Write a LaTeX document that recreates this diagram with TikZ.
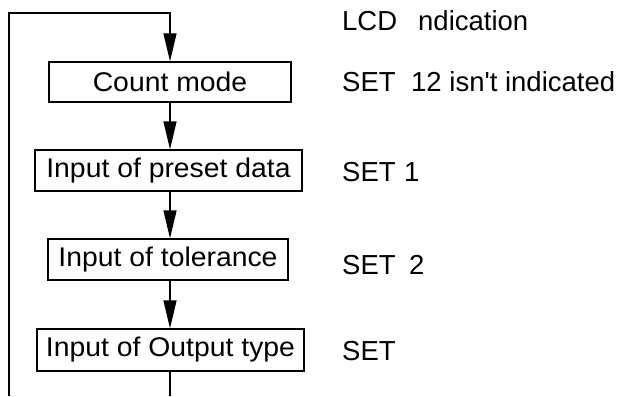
\documentclass[tikz,border=0pt]{standalone}
\usepackage{fontspec}
\setmainfont{Liberation Sans}
\newfontfamily\boxfont{Liberation Sans}[FakeStretch=1.05]
\usetikzlibrary{arrows.meta}
\begin{document}
\begin{tikzpicture}[x=1pt,y=-1pt,
  box/.style={draw,line width=1.3pt,inner sep=0pt,font=\boxfont\fontsize{27}{31}\selectfont},
  lab/.style={anchor=base west,inner sep=0pt,font=\fontsize{27.5}{31}\selectfont},
  conn/.style={line width=1.3pt},
  arr/.style={conn,-{Triangle[length=28pt,width=13pt]}}]
\useasboundingbox (0,0) rectangle (631,396);
\node[box,minimum width=242pt,minimum height=40pt] (count) at (170,82) {Count mode};
\node[box,minimum width=267pt,minimum height=41pt] (preset) at (168.5,170.5) {Input of preset data};
\node[box,minimum width=240pt,minimum height=41pt] (tol) at (168,259.5) {Input of tolerance};
\node[box,minimum width=267pt,minimum height=42pt] (out) at (170.5,350) {Input of Output type};
\coordinate (outend) at (170,396);
\coordinate (ls) at (9,396);
\coordinate (tl) at (9,13);
\draw[arr] (count.south) -- (count.south |- preset.north);
\draw[arr] (preset.south -| count.south) -- (tol.north -| count.south);
\draw[arr] (tol.south -| count.south) -- (out.north -| count.south);
\draw[conn] (out.south -| count.south) -- (outend);
\draw[arr] (ls) -- (tl) -| (count.north);
\node[lab] (l0a) at (342,31) {LCD};
\node[lab] (l0b) at (418,31) {ndication};
\node[lab] (l1a) at (342,91) {SET};
\node[lab] (l1b) at (411,91) {12 isn\textquotesingle t indicated};
\node[lab] (l2a) at (342,181) {SET};
\node[lab] (l2b) at (404,181) {1};
\node[lab] (l3a) at (342,274) {SET};
\node[lab] (l3b) at (409,274) {2};
\node[lab] (l4a) at (342,360) {SET};
\end{tikzpicture}
\end{document}
